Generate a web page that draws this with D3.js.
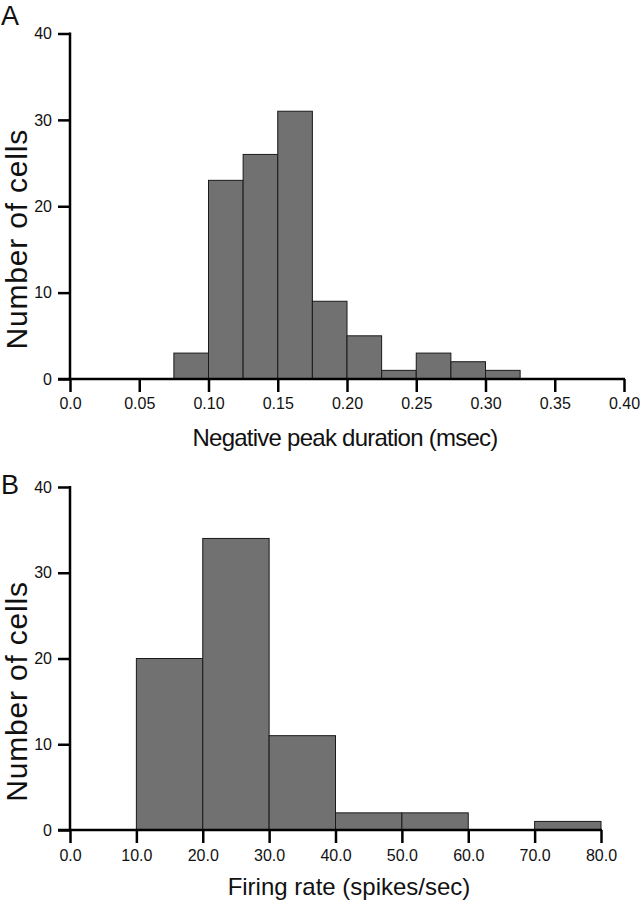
<!DOCTYPE html>
<html><head><meta charset="utf-8">
<script src="https://cdn.jsdelivr.net/npm/d3@7"></script>
<style>body{margin:0;background:#fff}svg{display:block}</style>
</head><body>
<script>
// Panel A: negative peak duration histogram (bin edges in msec)
const binsA = [0.075,0.100,0.125,0.150,0.175,0.200,0.225,0.250,0.275,0.300];
const countsA = [3,23,26,31,9,5,1,3,2,1];
const binWidthA = 0.025;
const xTicksA = [0.0,0.05,0.10,0.15,0.20,0.25,0.30,0.35,0.40];
const xTickLabelsA = ["0.0","0.05","0.10","0.15","0.20","0.25","0.30","0.35","0.40"];
// Panel B: firing rate histogram (spikes/sec)
const binsB = [10,20,30,40,50,70];
const countsB = [20,34,11,2,2,1];
const binWidthB = 10;
const xTicksB = [0,10,20,30,40,50,60,70,80];
const xTickLabelsB = ["0.0","10.0","20.0","30.0","40.0","50.0","60.0","70.0","80.0"];
const yTicks = [0,10,20,30,40];

const W = 642, H = 900;
const svg = d3.select("body").append("svg").attr("width", W).attr("height", H);
const font = "'Liberation Sans', Arial, Helvetica, sans-serif";

function panel(opts){
  const g = svg.append("g");
  const x = d3.scaleLinear().domain(opts.xDomain).range([70, opts.xRight]);
  const y = d3.scaleLinear().domain([0,40]).range([opts.y0, opts.y40]);
  // bars
  g.selectAll("rect.bar").data(opts.bins.map((b,i)=>({x0:b,x1:b+opts.bw,v:opts.counts[i]})))
    .enter().append("rect")
    .attr("x", d=>x(d.x0)).attr("width", d=>x(d.x1)-x(d.x0))
    .attr("y", d=>y(d.v)).attr("height", d=>y(0)-y(d.v))
    .attr("fill","#717171").attr("stroke","#1a1a1a").attr("stroke-width",1);
  // x axis
  const xa = d3.axisBottom(x).tickValues(opts.xTicks).tickSize(13).tickPadding(opts.xPad)
    .tickFormat((d,i)=>opts.xLabels[i]);
  const gx = g.append("g").attr("transform",`translate(0,${y(0)})`).call(xa);
  gx.select(".domain").attr("stroke","#000").attr("stroke-width",2.5).attr("d",`M${x(opts.xDomain[0])-12},0H${x(opts.xDomain[1])+1}`);
  gx.selectAll(".tick line").attr("stroke","#000").attr("stroke-width",2.5);
  gx.selectAll(".tick text").attr("font-family",font).attr("font-size",16).attr("fill","#111");
  // y axis
  const ya = d3.axisLeft(y).tickValues(yTicks).tickSize(12).tickPadding(6);
  const gy = g.append("g").attr("transform","translate(70,0)").call(ya);
  gy.select(".domain").attr("stroke","#000").attr("stroke-width",2.5).attr("d",`M0,${y(40)-1}V${y(0)}`);
  gy.selectAll(".tick line").attr("stroke","#000").attr("stroke-width",2.5);
  gy.selectAll(".tick text").attr("font-family",font).attr("font-size",16).attr("fill","#111");
  // titles
  g.append("text").attr("x",opts.titleX).attr("y",opts.titleY).attr("text-anchor","middle")
    .attr("font-family",font).attr("font-size",24).attr("letter-spacing",opts.titleLS)
    .attr("fill","#111").text(opts.xTitle);
  g.append("text").attr("transform",`translate(27,${(y(0)+y(40))/2 + 33}) rotate(-90)`)
    .attr("text-anchor","middle").attr("font-family",font).attr("font-size",30)
    .attr("letter-spacing",0.8).attr("fill","#111")
    .text("Number of cells");
  g.append("text").attr("x",1).attr("y",opts.letterY).attr("font-family",font)
    .attr("font-size",27).attr("fill","#111").text(opts.letter);
}

panel({xDomain:[0,0.40], xRight:624, y0:379, y40:33.5, bins:binsA, counts:countsA, bw:binWidthA,
  xTicks:xTicksA, xLabels:xTickLabelsA, xPad:6, xTitle:"Negative peak duration (msec)",
  titleX:345, titleY:445.5, titleLS:-0.75, letter:"A", letterY:25});
panel({xDomain:[0,80], xRight:601, y0:830, y40:487, bins:binsB, counts:countsB, bw:binWidthB,
  xTicks:xTicksB, xLabels:xTickLabelsB, xPad:7, xTitle:"Firing rate (spikes/sec)",
  titleX:349, titleY:895, titleLS:0, letter:"B", letterY:494});
</script>
</body></html>
